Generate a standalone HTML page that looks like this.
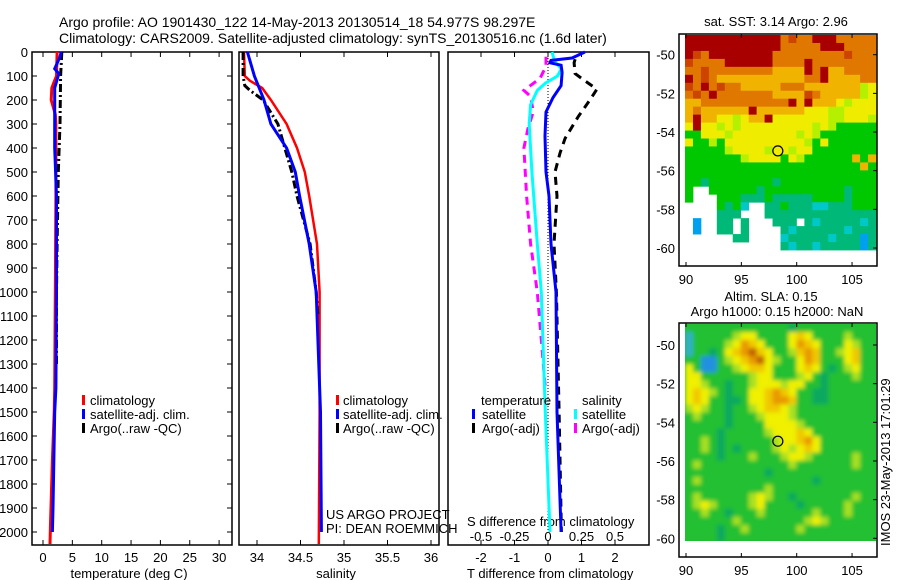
<!DOCTYPE html>
<html><head><meta charset="utf-8"><style>
html,body{margin:0;padding:0;background:#fff}
svg{display:block;font-family:"Liberation Sans",sans-serif}
text{font-size:13px;fill:#000}
</style></head><body>
<svg id="fig" width="900" height="580" viewBox="0 0 900 580">
<defs>
<filter id="smooth" x="685" y="324" width="191" height="217" filterUnits="userSpaceOnUse"><feGaussianBlur stdDeviation="2.2"/></filter>
<clipPath id="slaclip"><rect x="685" y="324" width="191" height="217"/></clipPath>
</defs>
<g id="titles">
<text x="59" y="27" style="font-size:14px">Argo profile: AO 1901430_122 14-May-2013 20130514_18 54.977S 98.297E</text>
<text x="59" y="43" style="font-size:14px">Climatology: CARS2009. Satellite-adjusted climatology: synTS_20130516.nc (1.6d later)</text>
</g>
<g id="p1"></g>
<g id="p2"></g>
<g id="p3"></g>
<g id="m1"></g>
<g id="m2"></g>
<text x="0" y="0" transform="translate(890,546) rotate(-90)">IMOS 23-May-2013 17:01:29</text>
</svg>
<script>
// ---------- data ----------
const depthTicks = [0,100,200,300,400,500,600,700,800,900,1000,1100,1200,1300,1400,1500,1600,1700,1800,1900,2000];
const tempTicks = [0,5,10,15,20,25,30];
const salTicks = [34,34.5,35,35.5,36];
const tdiffTicks = [-2,-1,0,1,2];
const sdiffTicks = [-0.5,-0.25,0,0.25,0.5];
const sdiffTickLabels = ["-0.5","-0.25","0","0.25","0.5"];

const tClimDepth = [0,100,130,150,200,260,300,600,1000,1400,1500,1700,1950,2050];
const tClimVal   = [2.4,2.3,1.8,1.5,1.4,2.1,2.2,2.2,2.1,2.0,1.9,1.6,1.3,1.2];
const tSatDepth  = [0,20,70,90,150,400,600,1000,1400,1500,1900,2000];
const tSatVal    = [3.1,2.9,2.0,2.7,2.0,2.0,2.3,2.3,2.2,2.0,1.7,1.6];
const tArgoDepth = [0,100,300,500,800,1000,1300];
const tArgoVal   = [3.2,3.0,2.9,2.6,2.4,2.3,2.3];

const sClimDepth = [0,100,120,150,200,300,400,500,600,800,1000,1500,2050];
const sClimVal   = [33.85,33.86,33.92,34.06,34.16,34.34,34.46,34.55,34.60,34.69,34.72,34.72,34.71];
const sSatDepth  = [0,100,200,300,400,500,600,800,1000,1500,2000];
const sSatVal    = [33.89,33.97,34.08,34.16,34.34,34.44,34.49,34.60,34.68,34.73,34.74];
const sArgoDepth = [0,100,140,160,200,300,400,500,600,800,1000,1100];
const sArgoVal   = [33.84,33.84,33.86,33.92,34.07,34.24,34.32,34.40,34.46,34.61,34.68,34.70];

const dTSatDepth = [0,25,35,45,55,85,140,190,250,350,500,600,800,1000,1500,2000];
const dTSatVal   = [1.1,0.72,0.09,0.06,0.39,0.42,0.39,0.15,-0.06,-0.09,-0.06,0.03,0.09,0.24,0.27,0.39];
const dTArgoDepth= [30,45,90,115,155,200,270,360,420,500,600,800,1000,1500,2000];
const dTArgoVal  = [0.81,0.78,0.81,1.05,1.46,1.25,0.9,0.51,0.36,0.21,0.27,0.18,0.25,0.33,0.4];
const dSSatDepth = [0,40,70,100,130,160,220,300,500,800,1000,1500,2000];
const dSSatVal   = [0.03,0.05,0.1,0.07,-0.02,-0.08,-0.13,-0.14,-0.12,-0.08,-0.05,-0.02,0.015];
const dSArgoDepth= [20,60,110,160,185,250,320,400,600,800,1000,1200,1400];
const dSArgoVal  = [-0.015,-0.015,-0.06,-0.18,-0.13,-0.11,-0.15,-0.18,-0.16,-0.13,-0.08,-0.05,-0.02];

const sstRows = [
"RRRRRRRRRRRRoOooRRRooooo","RRRRRRRRRRRRoooooRRRoooo","ROoRRRRRRRRoooooooooOooo",
"OooooRRRRRRooooRoooooooo","ooOooooooooyyyyRoRyyoooo","RoOoyyyyyyyyyyyooRyyyyoo",
"OoRoOooyyyyyoooyyyyyyylY","oOoRoooooooyyyyOoyyyyylY","yyoooooooooooRyRyyyYlYYY",
"yoyyyyyyRyyyyyyYYYllYYYY","yRyyYYlYyyRYYYYYYYllYYYl","YRYYlYlYYYYYYYYYlYlGGGGG",
"GGYYYlYYYYYYYYlYlGGGGGGG","YGGlGYYYYYYYYYYlGYGGGGGG","GGGGGlYYYYlYYlYYGGGGGGGG",
"GGGGGGGlYYYYGYlGGGGGGyGy","GGGGGGGGGGGGGGGGGGGGGGyG","GGGGGGGGGGGGGGGGGGGGGGGG",
"GGgGGGGGGGGgGGGGGGGGGGGG","G..GGGGGGgGGGGGGGGGGgGGG","G...GGGgggGgggggGGGGgGGG",
"....GgGc..ggGgggccgggGGG","....ggg...gggggggggggggg",".b..gg.g...ggg.gcgggggcg",
".b..gg.g....gcggggggcggg","......gg....cgggggcgggbg","............gcggcgggggbg"];
const slaRows = [
"GGGGGGGGGGGGGgGGGGGGGGGG","cGGGGGlYYGGGGYyYGGGGlGGG","cGGGGlYoyYGGGYoyYGGGYlGG",
"cGGgGYyoOyYGGlyoyGGlYyGG","GGbbGlYyoOYlGGYoyGGGYyGG","YGbbGGlYyyYGGGYyYGgGlYGG",
"YYGGGGGGlYYGGGlYGgGGGlGG","YYlGGgGGlYYYlYYGGgGGGGGG","YyYlGgGGYYyoyYGGggGGGGGG",
"YyYGGggGYYyooyGGggGGGGGG","lYlGGgGGlYyyYlGGGGGGGGGG","GlGGGgGGGlYYYlGGGGGGGGGG",
"GGGGGgGGGGYYYYlGGGGGGGGG","GGGGgGGGGGlYYYyYGGGGGGGG","GGlGgGGGGGGlYYyoYGGGGGGG",
"GGlGgGgGGGGlYlYyYGGGGGGG","GGGGgGGGlGGGlYYlGGGGGlGG","GlGGGGGGGGGGGlGGGGGGGlGG",
"GGGGGGGGGGgGGGGGGGGGGGGG","GlGGGGGGGGGGGGGGgGGGGGGG","GGGGGGGGGGlGGGGGGGGGGGGG",
"GlGGGGGGlYlGGgGGGGGGGlGG","GlYlGGGGlYGGGGgGGGGGlGGG","GGlGGgGGGlGGGGGGlGGGlGGG",
"GGGGGGlGGGGGGGGlYlGGGGGG","GGGGgGGlGGGGGGlGGGGGGGGG","GGGGgGGGGGGGGGGGGGGGGGGG"];
const mapLonTicks = [90,95,100,105];
const mapLatTicks = [-50,-52,-54,-56,-58,-60];
const floatLon = 98.297, floatLat = -54.977;

// ---------- helpers ----------
const NS="http://www.w3.org/2000/svg";
function mk(parent,tag,attrs){const e=document.createElementNS(NS,tag);for(const k in attrs)e.setAttribute(k,attrs[k]);parent.appendChild(e);return e;}
const yD = d => 52 + d*0.24;
const xT = t => 43 + t*5.87;
const xS = s => 257 + (s-34)*87;
const xDT = t => 548 + t*33.5;
const xDS = s => 548 + s*134;
const PB = 545;

function frame(g,x0,x1){
  const r=mk(g,'rect',{x:x0,y:52,width:x1-x0,height:PB-52,fill:'none',stroke:'#000','stroke-width':1.5});
  
  
}
function xTicks(g,vals,fx,labels,ly){
  vals.forEach((v,i)=>{
    const x=fx(v);
    mk(g,'line',{x1:x,y1:52,x2:x,y2:57,stroke:'#000'});
    mk(g,'line',{x1:x,y1:PB,x2:x,y2:PB-5,stroke:'#000'});
    const t=mk(g,'text',{x:x,y:ly,'text-anchor':'middle'});
    t.textContent=labels?labels[i]:String(v);
    
    
  });
}
function prof(g,ds,vs,fx,color,w,dash,name){
  const pts=ds.map((d,i)=>fx(vs[i]).toFixed(1)+','+yD(d).toFixed(1)).join(' ');
  const a={points:pts,fill:'none',stroke:color,'stroke-width':w,'stroke-linejoin':'miter'};
  if(dash)a['stroke-dasharray']=dash;
  const p=mk(g,'polyline',a);
  
  
}
function label(g,x,y,txt,name,anchor){
  const t=mk(g,'text',{x:x,y:y,'text-anchor':anchor||'start'});t.textContent=txt;
  
  
  return t;
}
function legendMark(g,x,y,color,name){
  const r=mk(g,'rect',{x:x,y:y-10,width:3,height:10,fill:color});
  
  
}

// ---------- panel 1 ----------
const p1=document.getElementById('p1');
frame(p1,32,232);
depthTicks.forEach(d=>{
  const y=yD(d);
  mk(p1,'line',{x1:32,y1:y,x2:37,y2:y,stroke:'#000'});
  mk(p1,'line',{x1:232,y1:y,x2:227,y2:y,stroke:'#000'});
  label(p1,28,y+5,String(d),'depth-tick-label','end');
});
xTicks(p1,tempTicks,xT,null,562);
label(p1,129,578,'temperature (deg C)','x-axis-title','middle');
prof(p1,tClimDepth,tClimVal,xT,'#ff0000',3,null,'temp-climatology-line');
prof(p1,tArgoDepth,tArgoVal,xT,'#000',3,'8,3,2,3','temp-argo-line');
prof(p1,tSatDepth,tSatVal,xT,'#0000ff',3,null,'temp-satellite-line');
legendMark(p1,82,405,'#ff0000','legend-climatology-mark');
label(p1,90,405,'climatology','legend-climatology');
legendMark(p1,82,419,'#0000ff','legend-satellite-mark');
label(p1,90,419,'satellite-adj. clim.','legend-satellite');
legendMark(p1,82,433,'#000','legend-argo-mark');
label(p1,90,433,'Argo(..raw -QC)','legend-argo');

// ---------- panel 2 ----------
const p2=document.getElementById('p2');
frame(p2,239,439);
xTicks(p2,salTicks,xS,null,562);
label(p2,336,578,'salinity','x-axis-title','middle');
prof(p2,sClimDepth,sClimVal,xS,'#ff0000',2.5,null,'sal-climatology-line');
prof(p2,sArgoDepth,sArgoVal,xS,'#000',3,'8,3,2,3','sal-argo-line');
prof(p2,sSatDepth,sSatVal,xS,'#0000ff',3,null,'sal-satellite-line');
legendMark(p2,336,405,'#ff0000','legend-climatology-mark');
label(p2,343,405,'climatology','legend-climatology');
legendMark(p2,336,419,'#0000ff','legend-satellite-mark');
label(p2,343,419,'satellite-adj. clim.','legend-satellite');
legendMark(p2,336,433,'#000','legend-argo-mark');
label(p2,343,433,'Argo(..raw -QC)','legend-argo');
label(p2,326,519,'US ARGO PROJECT','credit-project');
label(p2,326,533,'PI: DEAN ROEMMICH','credit-pi');

// ---------- panel 3 ----------
const p3=document.getElementById('p3');
frame(p3,448,649);
xTicks(p3,tdiffTicks,xDT,null,562);
sdiffTicks.forEach((v,i)=>{label(p3,xDS(v),541,sdiffTickLabels[i],'s-tick-label','middle');});
label(p3,467,526,'S difference from climatology','s-axis-title');
label(p3,467,578,'T difference from climatology','t-axis-title');
const zl=mk(p3,'line',{x1:xDT(0),y1:52,x2:xDT(0),y2:530,stroke:'#000','stroke-dasharray':'1,2'});


prof(p3,dSArgoDepth,dSArgoVal,xDS,'#ff00ff',3,'8,6','sdiff-argo-line');
prof(p3,dTArgoDepth,dTArgoVal,xDT,'#000',3,'8,6','tdiff-argo-line');
prof(p3,dSSatDepth,dSSatVal,xDS,'#00ffff',3,null,'sdiff-satellite-line');
prof(p3,dTSatDepth,dTSatVal,xDT,'#0000ff',3,null,'tdiff-satellite-line');
label(p3,481,405,'temperature','legend-temperature-heading');
legendMark(p3,472,419,'#0000ff','legend-tsat-mark');
label(p3,482,419,'satellite','legend-tsat');
legendMark(p3,472,433,'#000','legend-targo-mark');
label(p3,482,433,'Argo(-adj)','legend-targo');
label(p3,582,405,'salinity','legend-salinity-heading');
legendMark(p3,574,419,'#00ffff','legend-ssat-mark');
label(p3,582,419,'satellite','legend-ssat');
legendMark(p3,574,433,'#ff00ff','legend-sargo-mark');
label(p3,582,433,'Argo(-adj)','legend-sargo');

// ---------- maps ----------
const sstColors={R:'#a80000',O:'#cc4400',o:'#e07800',y:'#f0b400',Y:'#f0ec00',l:'#b4f000',G:'#00c800',g:'#00b878',c:'#00c8c8',b:'#00a0f0','.':null};
const slaColors={c:'#30b0c8',b:'#2090e0',g:'#10a860',G:'#20c030',l:'#a8e020',Y:'#f0f000',y:'#f0c800',o:'#e89800',O:'#c06000'};
function drawMap(id,rows,colors,fy0,fy1,iy0,iy1,smooth){
  const g=document.getElementById(id);
  const ix0=685, ix1=876;
  const cw=(ix1-ix0)/rows[0].length, ch=(iy1-iy0)/rows.length;
  let cg=g;
  if(smooth){
    const outer=mk(g,'g',{'clip-path':'url(#slaclip)'});
    mk(outer,'rect',{x:ix0,y:iy0,width:ix1-ix0,height:iy1-iy0,fill:'#20c030'});
    cg=mk(outer,'g',{filter:'url(#smooth)'});
  }
  rows.forEach((row,r)=>{
    for(let c=0;c<row.length;c++){
      const col=colors[row[c]];
      if(!col)continue;
      const cell=mk(cg,'rect',{x:(ix0+c*cw).toFixed(2),y:(iy0+r*ch).toFixed(2),width:(cw+0.4).toFixed(2),height:(ch+0.4).toFixed(2),fill:col});
      
      
    }
  });
  const lat0y = fy0===34 ? 54.7 : 345;
  const latScale = 19.33;
  const lonX = lo => 686 + (lo-90)*11.07;
  const latY = la => lat0y + (-50-la)*latScale;
  const fr=mk(g,'rect',{x:679,y:fy0,width:198,height:fy1-fy0,fill:'none',stroke:'#000','stroke-width':1.5});
  
  
  mapLonTicks.forEach(lo=>{
    const x=lonX(lo);
    mk(g,'line',{x1:x,y1:fy1,x2:x,y2:fy1-4,stroke:'#000'});
    mk(g,'line',{x1:x,y1:fy0,x2:x,y2:fy0+4,stroke:'#000'});
    label(g,x,fy1+18,String(lo),'map-lon-label','middle');
  });
  mapLatTicks.forEach(la=>{
    const y=latY(la);
    mk(g,'line',{x1:877,y1:y,x2:873,y2:y,stroke:'#000'});
    label(g,675,y+5,String(la),'map-lat-label','end');
  });
  const ci=mk(g,'circle',{cx:lonX(floatLon),cy:latY(floatLat),r:5,fill:'none',stroke:'#000','stroke-width':1.2});
  
  
}
drawMap('m1',sstRows,sstColors,34,266,35,250,false);
drawMap('m2',slaRows,slaColors,323,557,324,541,true);
const m1=document.getElementById('m1'), m2=document.getElementById('m2');
label(m1,776,26,'sat. SST: 3.14  Argo: 2.96','sst-map-title','middle');
label(m2,771,301,'Altim. SLA: 0.15','sla-map-title','middle');
label(m2,777,316,'Argo h1000: 0.15 h2000: NaN','sla-map-subtitle','middle');
</script>
</body></html>
